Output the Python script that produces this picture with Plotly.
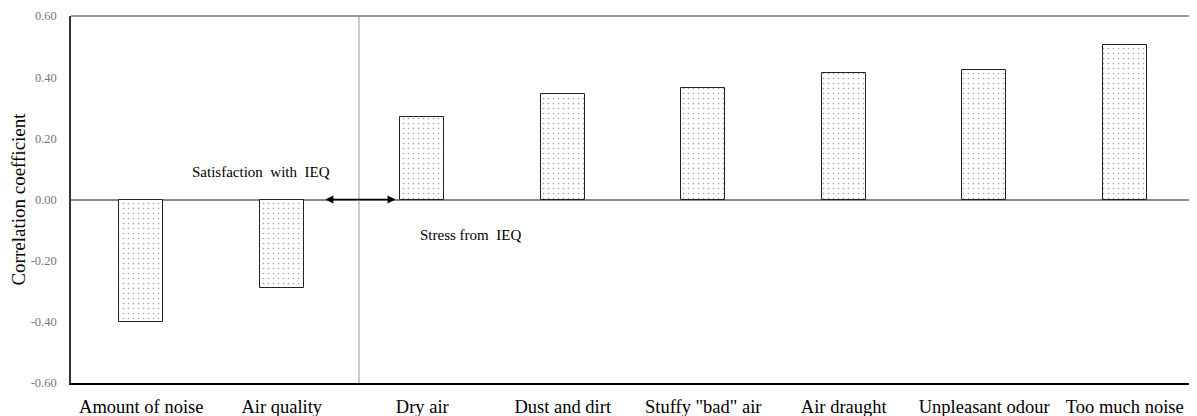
import plotly.graph_objects as go

categories = ["Amount of noise", "Air quality", "Dry air", "Dust and dirt",
              'Stuffy "bad" air', "Air draught", "Unpleasant odour", "Too much noise"]
values = [-0.40, -0.29, 0.27, 0.345, 0.365, 0.415, 0.425, 0.505]
tick_vals = [-0.6, -0.4, -0.2, 0.0, 0.2, 0.4, 0.6]
tick_text = ["-0.60", "-0.40", "-0.20", "0.00", "0.20", "0.40", "0.60"]

serif = "Liberation Serif, Times New Roman, serif"

fig = go.Figure()
fig.add_trace(go.Bar(
    x=categories, y=values, width=0.31,
    marker=dict(color="white", line=dict(color="#222", width=1),
                pattern=dict(shape=".", fgcolor="#444", bgcolor="white",
                             size=5, solidity=0.08)),
))

# separator line between satisfaction and stress groups
fig.add_shape(type="line", xref="x", yref="paper", x0=1.55, x1=1.55, y0=0, y1=1,
              line=dict(color="#999", width=1))
# top / right frame
fig.add_shape(type="line", xref="paper", yref="paper", x0=0, x1=1, y0=1, y1=1,
              line=dict(color="#777", width=1.5))
fig.add_shape(type="line", xref="paper", yref="paper", x0=1, x1=1, y0=0, y1=1,
              line=dict(color="#888", width=1))

# double-headed arrow
fig.add_annotation(x=1.81, y=0, ax=1.30, ay=0, xref="x", yref="y", axref="x", ayref="y",
                   text="", showarrow=True, arrowhead=2, startarrowhead=2,
                   arrowside="end+start", arrowsize=1, arrowwidth=1.6, arrowcolor="black")
fig.add_annotation(x=1.36, y=0.09, xref="x", yref="y", text="Satisfaction  with  IEQ",
                   showarrow=False, xanchor="right", font=dict(family=serif, size=15, color="black"))
fig.add_annotation(x=1.97, y=-0.117, xref="x", yref="y", text="Stress from  IEQ",
                   showarrow=False, xanchor="left", font=dict(family=serif, size=15, color="black"))

# page body has an 8px margin, so the figure is sized to fit the 1197x416 window
fig.update_layout(
    width=1189, height=408,
    margin=dict(l=63, r=2, t=8, b=33),
    plot_bgcolor="white", paper_bgcolor="white",
    showlegend=False, bargap=0,
    xaxis=dict(type="category", range=[-0.5, 7.5], showgrid=False, automargin=False,
               showline=True, linecolor="black", linewidth=1.5, ticks="",
               tickfont=dict(family=serif, size=18.5, color="black"),
               ticklabelstandoff=6),
    yaxis=dict(range=[-0.6, 0.6], tickvals=tick_vals, ticktext=tick_text, automargin=False,
               showgrid=False, showline=True, linecolor="#333", linewidth=1.5,
               zeroline=True, zerolinecolor="#888", zerolinewidth=1.5,
               ticks="", tickfont=dict(family=serif, size=12.5, color="#777"),
               ticklabelstandoff=10,
               title=dict(text="Correlation coefficient", standoff=10,
                          font=dict(family=serif, size=19, color="black"))),
)

fig.write_html("out.html")
